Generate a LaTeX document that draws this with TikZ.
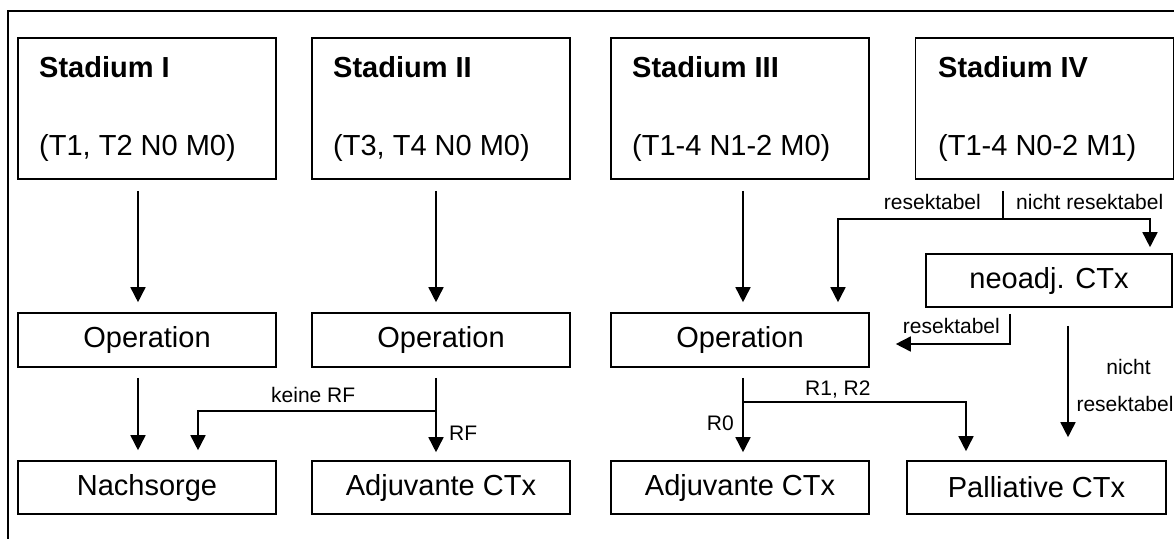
\documentclass[tikz,border=0pt]{standalone}
\usepackage{fontspec}
\setmainfont{Liberation Sans}
\usetikzlibrary{arrows.meta,calc}
\begin{document}
\begin{tikzpicture}[x=1pt,y=-1pt,
  box/.style={draw, line width=1.6pt, minimum width=258pt, minimum height=53pt, inner sep=0pt, font=\fontsize{29}{34}\selectfont},
  stagebox/.style={draw, line width=1.6pt, minimum width=258pt, minimum height=141pt, inner sep=0pt},
  titletext/.style={anchor=base west, inner sep=0pt, font=\fontsize{29}{34}\selectfont\bfseries},
  codetext/.style={anchor=base west, inner sep=0pt, font=\fontsize{29}{34}\selectfont},
  lbl/.style={inner sep=0pt, font=\fontsize{21}{25}\selectfont},
  arr/.style={line width=1.6pt, -{Triangle[length=15pt,width=15pt]}},
  ln/.style={line width=1.6pt}]
\useasboundingbox (0,0) rectangle (1174,538);
% outer frame
\draw[ln] (8,540) -- (8,11) -- (1176,11);

% stage boxes
\node[stagebox] (s1) at (147,108.5) {};
\node[titletext] (s1a) at (39,77) {Stadium I};
\node[codetext] (s1b) at (39,155) {(T1, T2 N0 M0)};
\node[stagebox] (s2) at (441,108.5) {};
\node[titletext] (s2a) at (333,77) {Stadium II};
\node[codetext] (s2b) at (333,155) {(T3, T4 N0 M0)};
\node[stagebox] (s3) at (740,108.5) {};
\node[titletext] (s3a) at (632,77) {Stadium III};
\node[codetext] (s3b) at (632,155) {(T1-4 N1-2 M0)};
\node[stagebox] (s4) at (1044.5,108.5) {};
\node[titletext] (s4a) at (938,77) {Stadium IV};
\node[codetext] (s4b) at (938,155) {(T1-4 N0-2 M1)};

% operation row
\node[box, minimum height=54pt] (o1) at (147,340) {Operation};
\node[box, minimum height=54pt] (o2) at (441,340) {Operation};
\node[box, minimum height=54pt] (o3) at (740,340) {Operation};
\node[box, minimum width=246pt] (n4) at (1049,280.5) {neoadj. CTx};

% bottom row
\node[box] (b1) at (147,487.5) {Nachsorge};
\node[box] (b2) at (441,487.5) {Adjuvante CTx};
\node[box] (b3) at (740,487.5) {Adjuvante CTx};
\node[box, minimum width=259pt] (b4) at (1036.5,487.5) {Palliative CTx};

% stage -> operation
\draw[arr] ($(s1.south)+(-9,11)$) -- ($(o1.north)+(-9,-10)$);
\draw[arr] ($(s2.south)+(-5,11)$) -- ($(o2.north)+(-5,-10)$);
\draw[arr] ($(s3.south)+(3,11)$) -- ($(o3.north)+(3,-10)$);

% stage IV split
\coordinate (j4) at ($(s4.south)+(-41.5,39)$);
\draw[ln] ($(s4.south)+(-41.5,11)$) -- (j4);
\draw[arr] (j4) -| ($(o3.north)+(98,-10)$);
\draw[arr] (j4) -| ($(n4.north)+(101,-6)$);
\node[lbl, anchor=base east] (l1) at (981,209) {resektabel};
\node[lbl, anchor=base west] (l2) at (1016,209) {nicht resektabel};

% neoadj -> operation / palliative
\draw[arr] ($(n4.south)+(-39,6)$) |- ($(o3.east)+(26,4)$);
\node[lbl, anchor=base east] (l3) at (1000,333) {resektabel};
\draw[arr] ($(n4.south)+(19,18)$) -- ($(b4.north)+(31.5,-23)$);
\node[lbl, anchor=base] (l4) at (1128.5,374) {nicht};
\node[lbl, anchor=base] (l5) at (1125,411) {resektabel};

% operation -> bottom
\draw[arr] ($(o1.south)+(-9,10)$) -- ($(b1.north)+(-9,-10)$);

\coordinate (j2) at ($(o2.south)+(-5,43)$);
\draw[arr] ($(o2.south)+(-5,10)$) -- ($(b2.north)+(-5,-8)$);
\draw[arr] (j2) -| ($(b1.north)+(51,-10)$);
\node[lbl, anchor=base west] (l6) at (271,402) {keine RF};
\node[lbl, anchor=base west] (l7) at (449,440) {RF};

\coordinate (j3) at ($(o3.south)+(3,34)$);
\draw[arr] ($(o3.south)+(3,10)$) -- ($(b3.north)+(3,-8)$);
\draw[arr] (j3) -| ($(b4.north)+(-70.5,-9)$);
\node[lbl, anchor=base west] (l8) at (805,395) {R1, R2};
\node[lbl, anchor=base east] (l9) at (734,430) {R0};
\end{tikzpicture}
\end{document}
